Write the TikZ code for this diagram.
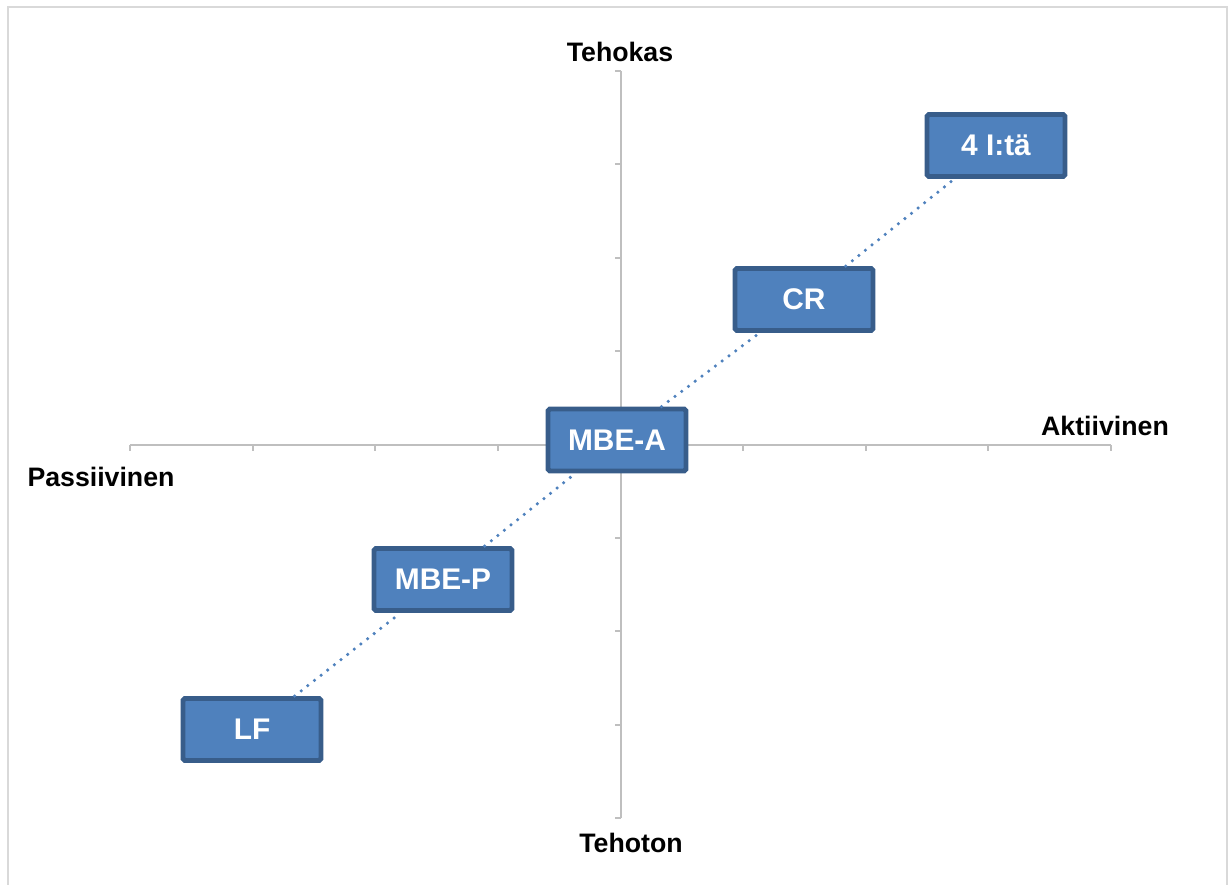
\documentclass[tikz,border=0pt]{standalone}
\usepackage{fontspec}
\setmainfont{Liberation Sans}
\usepackage{tikz}
\usetikzlibrary{positioning}

\definecolor{boxfill}{HTML}{4F81BD}
\definecolor{boxedge}{HTML}{385D8A}
\definecolor{axisgray}{HTML}{BFBFBF}
\definecolor{framegray}{HTML}{D9D9D9}

\tikzset{
  leadbox/.style={draw=boxedge, fill=boxfill, line width=2.8pt, rounded corners=1pt,
    minimum width=2.76cm, minimum height=1.24cm, inner sep=0pt,
    text=white, font=\fontsize{17}{19}\selectfont\bfseries},
  axisline/.style={draw=axisgray, line width=1.1pt},
  axislabel/.style={inner sep=0pt, font=\fontsize{15.2}{17}\selectfont\bfseries},
  dotlink/.style={draw=boxfill, line width=2pt, line cap=round, dash pattern=on 0pt off 4.8pt}
}

\begin{document}
\begin{tikzpicture}[x=0.02cm, y=-0.02cm]
  \useasboundingbox (0,0) rectangle (1232,885);
  % frame
  \draw[framegray, line width=1.1pt] (8,890) -- (8,7) -- (1227,7) -- (1227,890);

  % axes with ticks
  \draw[axisline] (130,445) -- (1111,445);
  \foreach \k in {0,...,8}
    \draw[axisline] (130+\k*122.625,445) -- (130+\k*122.625,451);
  \draw[axisline] (621,71) -- (621,818);
  \foreach \k in {0,...,8}
    \draw[axisline] (621,71+\k*93.375) -- (615,71+\k*93.375);

  % axis labels
  \node[axislabel] (tehokas) at (620,52) {Tehokas};
  \node[axislabel] (tehoton) at (631,843) {Tehoton};
  \node[axislabel] (aktiivinen) at (1105,426) {Aktiivinen};
  \node[axislabel] (passiivinen) at (101,477) {Passiivinen};

  % leadership styles
  \node[leadbox] (ita) at (996,145.5) {4 I:tä};
  \node[leadbox] (cr) at (804,299.5) {CR};
  \node[leadbox] (mbea) at (617,440) {MBE-A};
  \node[leadbox] (mbep) at (443,579.5) {MBE-P};
  \node[leadbox] (lf) at (252,729.5) {LF};

  % dotted trend
  \draw[dotlink] (lf) -- (mbep);
  \draw[dotlink] (mbep) -- (mbea);
  \draw[dotlink] (mbea) -- (cr);
  \draw[dotlink] (cr) -- (ita);
\end{tikzpicture}
\end{document}
